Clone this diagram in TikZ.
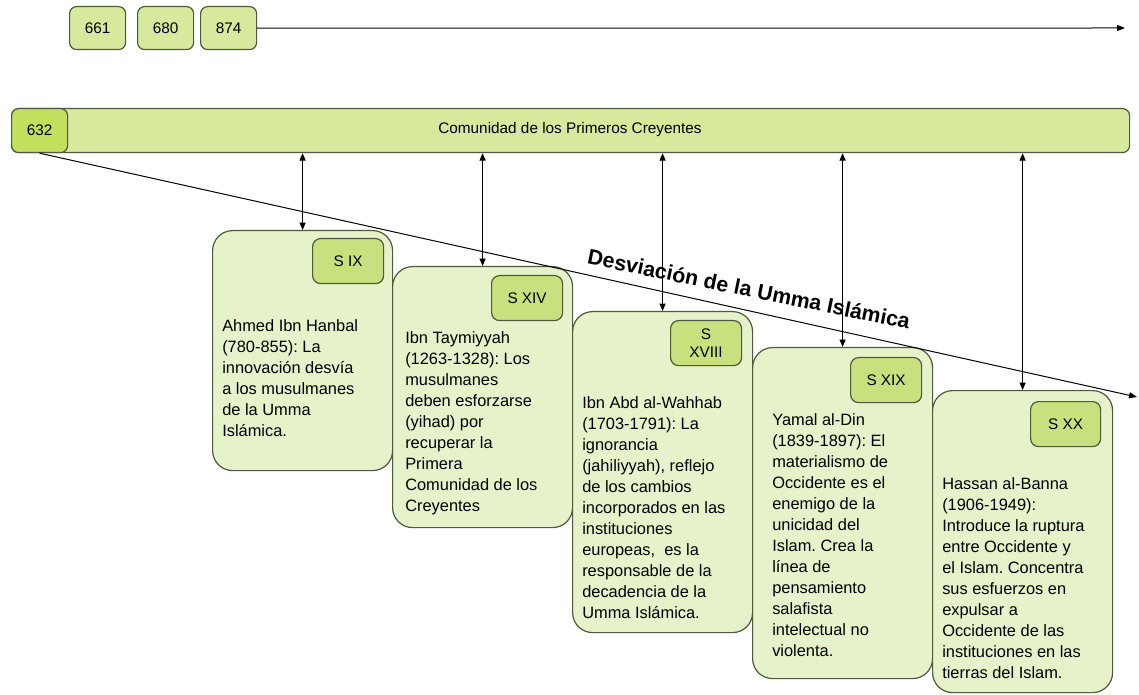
\documentclass[tikz,border=0pt]{standalone}
\usepackage{fontspec}
\setmainfont{Liberation Sans}
\usetikzlibrary{arrows.meta}
\frenchspacing
\newdimen\pxu \pxu=0.75pt
\definecolor{cardfill}{HTML}{E6F2CA}
\definecolor{subfill}{HTML}{C8E07E}
\definecolor{barfill}{HTML}{D7E99C}
\definecolor{darkfill}{HTML}{C3DF5E}
\definecolor{edge}{HTML}{4F5A3C}
\newcommand{\cardfont}{\fontsize{12.3}{15.75}\selectfont}
\newcommand{\smallfont}{\fontsize{11.5}{14}\selectfont}
\newcommand{\barfont}{\fontsize{11.5}{13}\selectfont}
\newcommand{\titlefont}{\fontsize{16}{19}\selectfont\bfseries}
\tikzset{
  box/.style={draw=edge, line width=0.9pt, inner sep=0pt, anchor=north west},
  topbox/.style={box, fill=barfill, rounded corners=7\pxu, minimum width=56\pxu, minimum height=43\pxu, font=\smallfont},
  card/.style={box, fill=cardfill, rounded corners=20\pxu, minimum width=180\pxu},
  subbox/.style={box, fill=subfill, rounded corners=8\pxu, minimum width=71\pxu, minimum height=45\pxu, align=center, font=\smallfont},
  txt/.style={anchor=north west, inner sep=0pt, align=left, font=\cardfont},
  arr/.style={-{Triangle[length=6pt,width=4.5pt]}, line width=0.75pt},
  dbl/.style={{Triangle[length=5.5pt,width=4.5pt]}-{Triangle[length=5.5pt,width=4.5pt]}, line width=0.75pt},
}
\begin{document}
\begin{tikzpicture}[x=0.75pt,y=-0.75pt]
\useasboundingbox (0,0) rectangle (1139,695);
% top timeline
\node[topbox] (t661) at (69,6) {661};
\node[topbox] (t680) at (137,6) {680};
\node[topbox] (t874) at (200,6) {874};
\coordinate (tend) at (1125,28);
\draw[arr] (t874.east) -- (tend);
% bar
\node[box, fill=barfill, rounded corners=7\pxu, minimum width=1118\pxu, minimum height=44\pxu] (bar) at (11,108) {};
\node[font=\barfont] (bartxt) at (570,130) {Comunidad de los Primeros Creyentes};
\node[box, fill=darkfill, rounded corners=7\pxu, minimum width=56\pxu, minimum height=44\pxu, font=\smallfont] (y632) at (11,108) {632};
% cards
\node[card, minimum height=240\pxu] (c1) at (212,230) {};
\node[subbox] (s1) at (312,238) {S IX};
\node[txt] (c1t) at (222,319) {Ahmed Ibn Hanbal\\(780-855): La\\innovación desvía\\a los musulmanes\\de la Umma\\Islámica.};

\node[card, minimum height=261\pxu] (c2) at (392,266) {};
\node[subbox] (s2) at (491,275) {S XIV};
\node[txt] (c2t) at (405,331) {Ibn Taymiyyah\\(1263-1328): Los\\musulmanes\\deben esforzarse\\(yihad) por\\recuperar la\\Primera\\Comunidad de los\\Creyentes};

\node[card, minimum height=321\pxu] (c3) at (572,311) {};
\node[subbox] (s3) at (670,320) {S\\XVIII};
\node[txt] (c3t) at (582,396) {Ibn Abd al-Wahhab\\(1703-1791): La\\ignorancia\\(jahiliyyah), reflejo\\de los cambios\\incorporados en las\\instituciones\\europeas,\ \ es la\\responsable de la\\decadencia de la\\Umma Islámica.};

\node[card, minimum height=331\pxu] (c4) at (752,347) {};
\node[subbox] (s4) at (850,357) {S XIX};
\node[txt] (c4t) at (772,413) {Yamal al-Din\\(1839-1897): El\\materialismo de\\Occidente es el\\enemigo de la\\unicidad del\\Islam. Crea la\\línea de\\pensamiento\\salafista\\intelectual no\\violenta.};

\node[card, minimum height=302\pxu] (c5) at (932,390) {};
\node[subbox, minimum width=70\pxu] (s5) at (1030,401) {S XX};
\node[txt] (c5t) at (942,477) {Hassan al-Banna\\(1906-1949):\\Introduce la ruptura\\entre Occidente y\\el Islam. Concentra\\sus esfuerzos en\\expulsar a\\Occidente de las\\instituciones en las\\tierras del Islam.};
% links bar <-> cards
\foreach \c in {c1,c2,c3,c4,c5}
  \draw[dbl] (\c.north |- bar.south) -- (\c.north);
% deviation line
\coordinate (dend) at (1137,397);
\draw[arr] (y632.south) -- (dend);
\node[font=\titlefont, rotate=-11.5] (title) at (749,289) {Desviación de la Umma Islámica};
\end{tikzpicture}
\end{document}
